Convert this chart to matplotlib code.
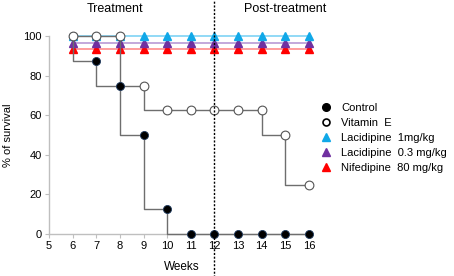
import matplotlib.pyplot as plt
from matplotlib.lines import Line2D

plt.rcParams['font.family'] = ['Liberation Sans', 'DejaVu Sans']

weeks = [6, 7, 8, 9, 10, 11, 12, 13, 14, 15, 16]
control = [100, 87.5, 75, 50, 12.5, 0, 0, 0, 0, 0, 0]
vitamin_e = [100, 100, 100, 75, 62.5, 62.5, 62.5, 62.5, 62.5, 50, 25]
lacid_1 = [100] * 11
lacid_03 = [96.5] * 11
nifed_80 = [93.5] * 11

labels = ["Control", "Vitamin  E", "Lacidipine  1mg/kg",
          "Lacidipine  0.3 mg/kg", "Nifedipine  80 mg/kg"]

fig = plt.figure(figsize=(4.54, 2.76), dpi=100)
ax = fig.add_axes([49 / 454, 1 - 234 / 276, 260 / 454, 198 / 276])

# flat treatment groups (light line, dark triangles)
tri = [(nifed_80, "#FF8C8C", "#FF0000"),
       (lacid_03, "#B99AD6", "#7030A0"),
       (lacid_1, "#7FD3F5", "#10A8E8")]
for vals, lc, mc in tri:
    ax.plot(weeks, vals, color=lc, lw=1.2, zorder=2, clip_on=False)
    ax.plot(weeks, vals, ls="none", marker="^", ms=6, color=mc,
            mec=mc, zorder=3, clip_on=False)

# Kaplan-Meier steps
ax.plot(weeks, control, drawstyle="steps-pre", color="#6E6E6E", lw=1, zorder=4, clip_on=False)
ax.plot(weeks, vitamin_e, drawstyle="steps-pre", color="#6E6E6E", lw=1, zorder=4, clip_on=False)
ax.plot(weeks, control, ls="none", marker="o", ms=5.8, color="black",
        mec="#1F3A5F", mew=0.6, zorder=5, clip_on=False)
ax.plot(weeks, vitamin_e, ls="none", marker="o", ms=6.3, mfc="white",
        mec="#555555", mew=0.8, zorder=6, clip_on=False)

ax.axvline(12, ymin=-0.22, ymax=1.19, color="black", ls=(0, (1.5, 1.2)),
           lw=1, clip_on=False, zorder=7)

ax.set_xlim(5, 16)
ax.set_ylim(0, 100)
ax.set_xticks(range(5, 17))
ax.set_yticks(range(0, 101, 20))
ax.tick_params(labelsize=8, length=3, width=0.8, color="#BFBFBF", pad=2)
for s in ["top", "right"]:
    ax.spines[s].set_visible(False)
for s in ["left", "bottom"]:
    ax.spines[s].set_color("#BFBFBF")
    ax.spines[s].set_linewidth(1)

fig.text(8 / 454, 1 - 135 / 276, "% of survival", rotation=90,
         ha="center", va="center", fontsize=8)
fig.text(182 / 454, 1 - 267 / 276, "Weeks", ha="center", va="center", fontsize=8.5)
fig.text(115 / 454, 1 - 9 / 276, "Treatment", ha="center", va="center", fontsize=9)
fig.text(285 / 454, 1 - 9 / 276, "Post-treatment", ha="center", va="center", fontsize=9)

handles = [
    Line2D([], [], ls="none", marker="o", ms=5.5, color="black"),
    Line2D([], [], ls="none", marker="o", ms=5, mfc="white", mec="black", mew=1.2),
    Line2D([], [], ls="none", marker="^", ms=5.5, color="#10A8E8"),
    Line2D([], [], ls="none", marker="^", ms=5.5, color="#7030A0"),
    Line2D([], [], ls="none", marker="^", ms=5.5, color="#FF0000"),
]
fig.legend(handles, labels, loc="upper left",
           bbox_to_anchor=(320 / 454, 1 - 103 / 276), frameon=False,
           fontsize=8, handlelength=1, handletextpad=0.9,
           labelspacing=0.45, borderpad=0, borderaxespad=0)

fig.savefig("out.png", dpi=100)
